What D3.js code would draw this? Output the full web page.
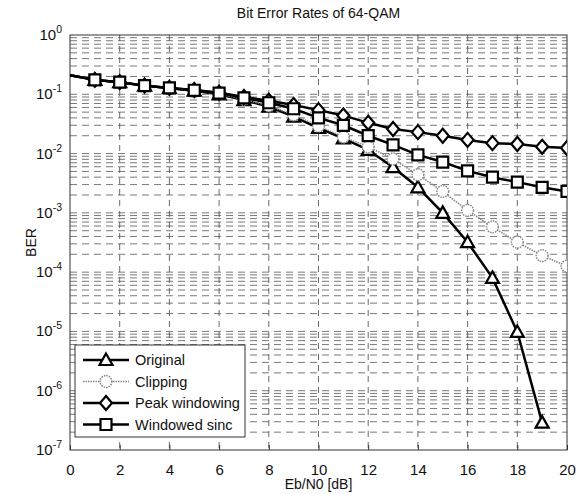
<!DOCTYPE html>
<html>
<head>
<meta charset="utf-8">
<script src="https://cdn.jsdelivr.net/npm/d3@7"></script>
<style>
body { margin:0; background:#fff; }
text { font-family: Arial, "Liberation Sans", sans-serif; fill:#111; }
</style>
</head>
<body>
<svg id="chart"></svg>
<script>
var width = 582, height = 494;

// Eb/N0 [dB]
var snr = [0,1,2,3,4,5,6,7,8,9,10,11,12,13,14,15,16,17,18,19,20];

var original = [0.21,0.175,0.16,0.14,0.127,0.115,0.10,0.08,0.062,0.042,0.027,0.018,0.0115,0.0059,0.0027,0.0010,3.2e-4,8e-5,9.8e-6,2.9e-7];
var clipping = [0.21,0.175,0.16,0.14,0.127,0.116,0.102,0.082,0.064,0.045,0.029,0.019,0.013,0.0081,0.0044,0.0023,0.0011,5.8e-4,3.2e-4,1.9e-4,1.26e-4];
var peakWindowing = [0.21,0.175,0.16,0.14,0.128,0.118,0.106,0.09,0.078,0.066,0.054,0.044,0.033,0.026,0.023,0.020,0.017,0.015,0.0145,0.013,0.0124];
var windowedSinc = [0.21,0.175,0.16,0.14,0.128,0.117,0.105,0.087,0.072,0.057,0.040,0.030,0.020,0.014,0.0095,0.0072,0.0051,0.0040,0.0033,0.0027,0.0023];

var seriesNames = ["Original","Clipping","Peak windowing","Windowed sinc"];
var xTicks = [0,2,4,6,8,10,12,14,16,18,20];
var yExponents = [0,-1,-2,-3,-4,-5,-6,-7];

var series = [
	{name: seriesNames[0], values: original, marker: "triangle", color: "#000", width: 2.5, dash: null},
	{name: seriesNames[1], values: clipping, marker: "circle", color: "#888", width: 1.6, dash: "1.5,1"},
	{name: seriesNames[2], values: peakWindowing, marker: "diamond", color: "#000", width: 2.5, dash: null},
	{name: seriesNames[3], values: windowedSinc, marker: "square", color: "#000", width: 2.5, dash: null}
];

var plotLeft = 70, plotRight = 567, plotTop = 35, plotBottom = 450;

var svg = d3.select('#chart')
	.attr('width', width)
	.attr('height', height);

var x = d3.scaleLinear().domain([0,20]).range([plotLeft,plotRight]);
var y = d3.scaleLog().domain([1e-7,1]).range([plotBottom,plotTop]);

svg.append('defs').append('clipPath').attr('id','plotclip')
	.append('rect')
	.attr('x', plotLeft).attr('y', plotTop)
	.attr('width', plotRight-plotLeft).attr('height', plotBottom-plotTop);

// grid
var grid = svg.append('g').attr('class','grid');
xTicks.slice(1,-1).forEach(function(t){
	grid.append('line')
		.attr('x1', x(t)).attr('x2', x(t))
		.attr('y1', plotTop).attr('y2', plotBottom)
		.attr('stroke','#444').attr('stroke-width',0.8)
		.attr('stroke-dasharray','6,5');
});
var minorVals = [];
for (var e = -7; e < 0; e++) {
	for (var m = 1; m <= 9; m++) {
		minorVals.push(m*Math.pow(10,e));
	}
}
minorVals.forEach(function(v){
	if (Math.abs(Math.log10(v)+7) < 1e-9) return;
	grid.append('line')
		.attr('x1', plotLeft).attr('x2', plotRight)
		.attr('y1', y(v)).attr('y2', y(v))
		.attr('stroke','#555').attr('stroke-width',0.8)
		.attr('stroke-dasharray','7,5');
});

// axes box and ticks
svg.append('rect')
	.attr('x', plotLeft).attr('y', plotTop)
	.attr('width', plotRight-plotLeft).attr('height', plotBottom-plotTop)
	.attr('fill','none').attr('stroke','#333').attr('stroke-width',1);

var xAxis = d3.axisBottom(x).tickValues(xTicks).tickSizeInner(-5).tickSizeOuter(0).tickPadding(14).tickFormat(d3.format('d'));
var gx = svg.append('g').attr('transform','translate(0,'+plotBottom+')').call(xAxis);
gx.select('.domain').remove();
gx.selectAll('line').attr('stroke','#333');
gx.selectAll('text').style('font-size','15px').attr('fill','#111');

yExponents.forEach(function(ex){
	var t = svg.append('text')
		.attr('x', plotLeft-8)
		.attr('y', y(Math.pow(10,ex))+5)
		.attr('text-anchor','end')
		.style('font-size','15px');
	t.append('tspan').text('10');
	t.append('tspan').attr('dy',-7).style('font-size','10.5px').text(ex);
});

// title and labels
svg.append('text')
	.attr('x', (plotLeft+plotRight)/2).attr('y', 18)
	.attr('text-anchor','middle')
	.style('font-size','14px')
	.text('Bit Error Rates of 64-QAM');
svg.append('text')
	.attr('x', (plotLeft+plotRight)/2).attr('y', 489)
	.attr('text-anchor','middle')
	.style('font-size','14px')
	.text('Eb/N0 [dB]');
svg.append('text')
	.attr('transform','translate(36,'+((plotTop+plotBottom)/2)+') rotate(-90)')
	.attr('text-anchor','middle')
	.style('font-size','14px')
	.text('BER');

// markers
function markerPath(type) {
	if (type === 'triangle') return 'M0,-6.5L6.5,5L-6.5,5Z';
	if (type === 'diamond') return 'M0,-7L6,0L0,7L-6,0Z';
	if (type === 'square') return 'M-5.5,-5.5L5.5,-5.5L5.5,5.5L-5.5,5.5Z';
	return d3.symbol().type(d3.symbolCircle).size(110)();
}

var line = d3.line()
	.x(function(d){ return x(d[0]); })
	.y(function(d){ return y(d[1]); });

var plot = svg.append('g').attr('clip-path','url(#plotclip)');

series.forEach(function(s){
	var pts = s.values.map(function(v,i){ return [snr[i], v]; });
	plot.append('path')
		.datum(pts)
		.attr('d', line)
		.attr('fill','none')
		.attr('stroke', s.color)
		.attr('stroke-width', s.width)
		.attr('stroke-dasharray', s.dash);
	plot.selectAll(null)
		.data(pts.filter(function(p){ return p[0] > 0; }))
		.enter().append('path')
		.attr('transform', function(d){ return 'translate('+x(d[0])+','+y(d[1])+')'; })
		.attr('d', markerPath(s.marker))
		.attr('fill','white')
		.attr('stroke', s.color)
		.attr('stroke-width', s.marker === 'circle' ? 1.5 : 2.2)
		.attr('stroke-dasharray', s.dash);
});

// legend
var lg = svg.append('g').attr('transform','translate(75,345)');
lg.append('rect')
	.attr('width',170).attr('height',92)
	.attr('fill','white').attr('stroke','#333').attr('stroke-width',1);
series.forEach(function(s,i){
	var row = lg.append('g').attr('transform','translate(0,'+(15+i*21.5)+')');
	row.append('line')
		.attr('x1',8).attr('x2',54).attr('y1',0).attr('y2',0)
		.attr('stroke', s.color).attr('stroke-width', s.width)
		.attr('stroke-dasharray', s.dash);
	row.append('path')
		.attr('transform','translate(31,0)')
		.attr('d', markerPath(s.marker))
		.attr('fill','white')
		.attr('stroke', s.color)
		.attr('stroke-width', s.marker === 'circle' ? 1.5 : 2.2)
		.attr('stroke-dasharray', s.dash);
	row.append('text')
		.attr('x',60).attr('y',5)
		.style('font-size','14.5px')
		.text(s.name);
});
</script>
</body>
</html>
